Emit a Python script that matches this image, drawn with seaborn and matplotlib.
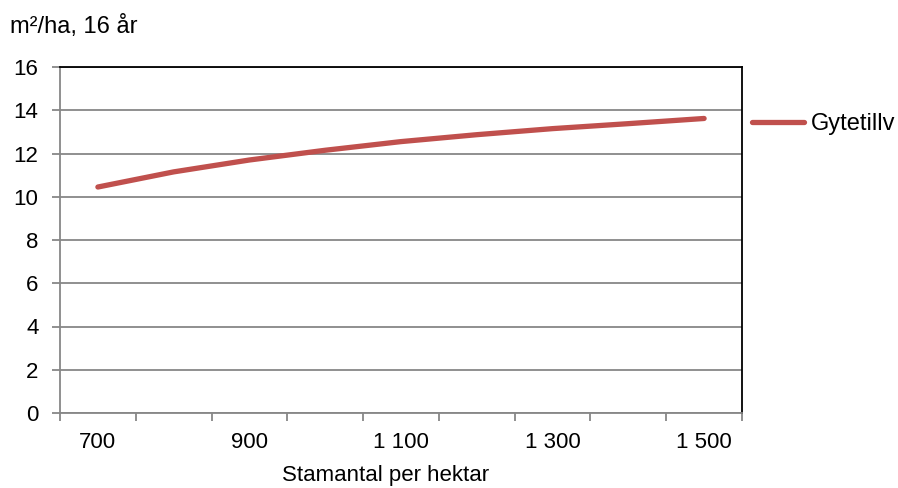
import matplotlib
matplotlib.use("Agg")
import matplotlib.pyplot as plt
import seaborn as sns
import pandas as pd
import numpy as np

stems = [700, 800, 900, 1000, 1100, 1200, 1300, 1400, 1500]
gytetillv = [10.45, 11.15, 11.7, 12.15, 12.55, 12.87, 13.15, 13.38, 13.62]
label_stems = [700, 900, 1100, 1300, 1500]
label_texts = ["700", "900", "1 100", "1 300", "1 500"]
series_name = "Gytetillv"

sns.set_theme(style="white")
plt.rcParams['font.family'] = ['Liberation Sans', 'DejaVu Sans']
plt.rcParams['text.color'] = 'black'

fig = plt.figure(figsize=(8.98, 4.88), dpi=100)
ax = fig.add_axes([60/898, 75/488, 682/898, 346/488])

df = pd.DataFrame({"Stamantal": stems, "value": gytetillv, "serie": series_name})
sns.lineplot(data=df, x="Stamantal", y="value", hue="serie", palette=["#C0504D"],
             linewidth=3.8, ax=ax, solid_capstyle="round", legend=True)

ax.set_xlim(650, 1550)
ax.set_ylim(0, 16)
ax.set_yticks(np.arange(0, 17, 2))
ax.set_yticklabels([str(v) for v in range(0, 17, 2)], fontsize=16, color="black")
ax.yaxis.grid(True, color="#878787", linewidth=1.3)
ax.set_axisbelow(True)

ax.set_xticks(label_stems)
ax.set_xticklabels(label_texts, fontsize=16, color="black")
ax.set_xticks(np.arange(650, 1551, 100), minor=True)
ax.tick_params(axis="x", which="major", length=0, pad=14)
ax.tick_params(axis="x", which="minor", length=5.5, width=1.3, color="#878787", bottom=True)
ax.tick_params(axis="y", which="major", length=5.5, width=1.3, color="#878787", left=True, pad=10)

for s in ["left", "bottom"]:
    ax.spines[s].set_color("#878787")
    ax.spines[s].set_linewidth(1.3)
for s in ["top", "right"]:
    ax.spines[s].set_color("black")
    ax.spines[s].set_linewidth(1.3)

ax.set_xlabel("Stamantal per hektar", fontsize=16, color="black")
ax.xaxis.set_label_coords((386 - 60) / 682, -(476 - 413) / 346)
ax.xaxis.label.set_va("center")
ax.set_ylabel("")
fig.text(10/898, 1 - 27/488, "m²/ha, 16 år", fontsize=17, color="black",
         va="center", ha="left")

leg = ax.legend(loc="center left", bbox_to_anchor=(1.015, 0.835), frameon=False,
                fontsize=17, handlelength=2.2, handletextpad=0.3, borderaxespad=0,
                borderpad=0, labelcolor="black")
for line in leg.get_lines():
    line.set_linewidth(3.8)

fig.savefig("out.png", dpi=100)
